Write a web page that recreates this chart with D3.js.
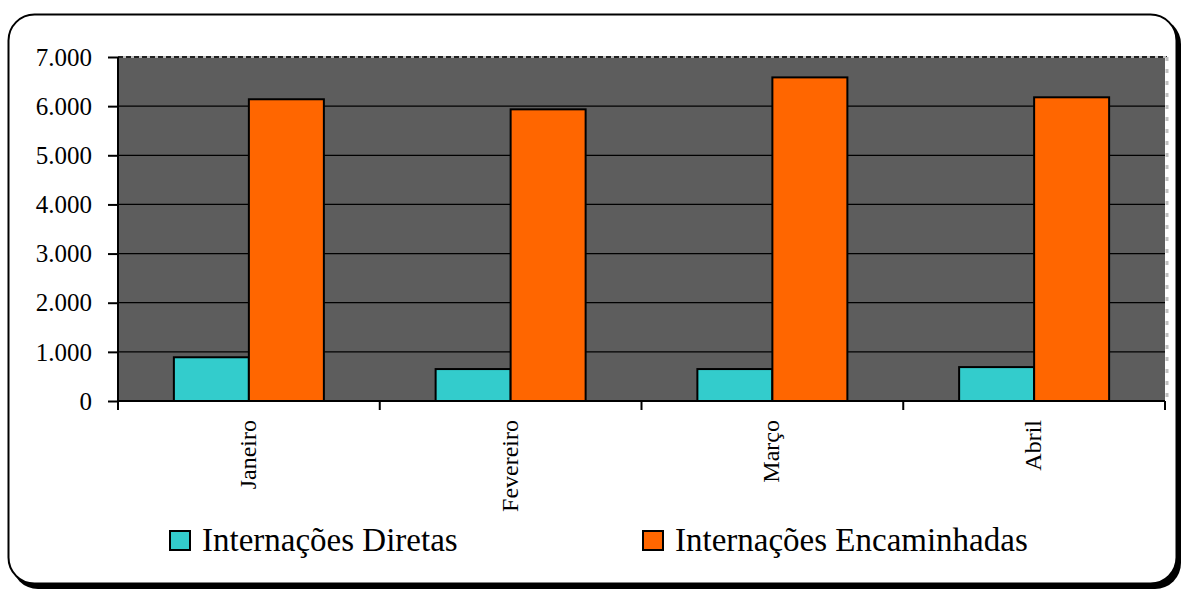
<!DOCTYPE html>
<html>
<head>
<meta charset="utf-8">
<script src="https://cdn.jsdelivr.net/npm/d3@7"></script>
<style>
  body { margin: 0; background: #fff; }
  svg { display: block; }
  svg text { font-family: "Liberation Serif", "DejaVu Serif", serif; fill: #000; }
</style>
</head>
<body>
<svg id="chart" width="1185" height="592"></svg>
<script>
// data
var months = ["Janeiro", "Fevereiro", "Março", "Abril"];
var seriesNames = ["Internações Diretas", "Internações Encaminhadas"];
var diretas = [890, 650, 650, 690];
var encaminhadas = [6140, 5935, 6585, 6180];
var yTicks = [0, 1000, 2000, 3000, 4000, 5000, 6000, 7000];
var colors = ["#33CCCC", "#FF6600"];

drawChart();

function drawChart(){
    var svg = d3.select("#chart");
    var serif = "'Liberation Serif', 'DejaVu Serif', serif";

    // outer frame with shadow
    svg.append("rect")
        .attr("x", 12).attr("y", 18).attr("width", 1169).attr("height", 571)
        .attr("rx", 26).attr("fill", "#000");
    svg.append("rect")
        .attr("x", 8.5).attr("y", 14.5).attr("width", 1168).attr("height", 569)
        .attr("rx", 26).attr("fill", "#fff").attr("stroke", "#000").attr("stroke-width", 2);

    var pl = 118, pr = 1165, pt = 57, pb = 401;

    var x = d3.scaleBand().domain(months).range([pl, pr]);
    var x1 = d3.scaleBand().domain(seriesNames).range([0, 150]);
    var y = d3.scaleLinear().domain([0, 7000]).range([pb, pt]);

    // plot background
    svg.append("rect")
        .attr("x", pl).attr("y", pt)
        .attr("width", pr - pl).attr("height", pb - pt)
        .attr("fill", "#5D5D5D");

    // gridlines
    svg.append("g").selectAll("line")
        .data(yTicks.slice(1, -1))
        .enter().append("line")
        .attr("x1", pl).attr("x2", pr)
        .attr("y1", function(d){ return y(d); })
        .attr("y2", function(d){ return y(d); })
        .attr("stroke", "#000").attr("stroke-width", 1.2);

    // dashed top and right edges
    svg.append("line")
        .attr("x1", pl).attr("x2", pr + 2).attr("y1", pt).attr("y2", pt)
        .attr("stroke", "#c0c0c0").attr("stroke-width", 2);
    svg.append("line")
        .attr("x1", pl).attr("x2", pr + 2).attr("y1", pt).attr("y2", pt)
        .attr("stroke", "#222").attr("stroke-width", 2).attr("stroke-dasharray", "5,3");
    svg.append("line")
        .attr("x1", pr + 2).attr("x2", pr + 2).attr("y1", pt).attr("y2", pb)
        .attr("stroke", "#c0c0c0").attr("stroke-width", 3).attr("stroke-dasharray", "4,8");

    // bars
    var offset = (x.bandwidth() - 150) / 2;
    var groups = svg.append("g").selectAll("g")
        .data(months)
        .enter().append("g")
        .attr("transform", function(d){ return "translate(" + (x(d) + offset) + ",0)"; });

    groups.selectAll("rect")
        .data(function(d, i){ return [diretas[i], encaminhadas[i]]; })
        .enter().append("rect")
        .attr("x", function(d, j){ return x1(seriesNames[j]); })
        .attr("y", function(d){ return y(d); })
        .attr("width", x1.bandwidth())
        .attr("height", function(d){ return pb - y(d); })
        .attr("fill", function(d, j){ return colors[j]; })
        .attr("stroke", "#000").attr("stroke-width", 2);

    // y axis
    var yAxis = d3.axisLeft(y)
        .tickValues(yTicks)
        .tickSize(10)
        .tickFormat(function(d){ return d === 0 ? "0" : d3.format(",")(d).replace(/,/g, "."); });
    var gy = svg.append("g").attr("transform", "translate(" + pl + ",0)").call(yAxis)
        .attr("font-family", serif).attr("font-size", 25);
    gy.select(".domain").attr("stroke", "#000").attr("stroke-width", 2).attr("d", "M0," + pt + "V" + pb);
    gy.selectAll(".tick line").attr("stroke", "#000").attr("stroke-width", 2);
    gy.selectAll("text")
        .attr("x", -26).attr("dy", "0.33em")
        .attr("font-family", serif).attr("font-size", 25).attr("fill", "#000");

    // x axis
    var gx = svg.append("g").attr("transform", "translate(0," + pb + ")")
        .call(d3.axisBottom(x).tickSize(0).tickFormat(""));
    gx.select(".domain").attr("stroke", "#000").attr("stroke-width", 2).attr("d", "M" + pl + ",0H" + pr);
    gx.selectAll(".tick").remove();
    gx.selectAll(".sep")
        .data(months.concat(["end"]))
        .enter().append("line")
        .attr("x1", function(d, i){ return i < months.length ? x(d) : pr; })
        .attr("x2", function(d, i){ return i < months.length ? x(d) : pr; })
        .attr("y1", 0).attr("y2", 9)
        .attr("stroke", "#000").attr("stroke-width", 2);

    svg.append("g").selectAll("text")
        .data(months)
        .enter().append("text")
        .attr("transform", function(d){
            return "translate(" + (x(d) + x.bandwidth() / 2 + 7) + ",420) rotate(-90)";
        })
        .attr("text-anchor", "end")
        .attr("font-family", serif)
        .attr("font-size", 24)
        .text(function(d){ return d; });

    // legend
    var legendX = [170, 643];
    var legend = svg.append("g").selectAll("g")
        .data(seriesNames)
        .enter().append("g")
        .attr("transform", function(d, i){ return "translate(" + legendX[i] + ",531)"; });
    legend.append("rect")
        .attr("width", 20).attr("height", 19)
        .attr("fill", function(d, i){ return colors[i]; })
        .attr("stroke", "#000").attr("stroke-width", 2);
    legend.append("text")
        .attr("x", 32).attr("y", 20)
        .attr("font-family", serif)
        .attr("font-size", 33)
        .text(function(d){ return d; });
}
</script>
</body>
</html>
